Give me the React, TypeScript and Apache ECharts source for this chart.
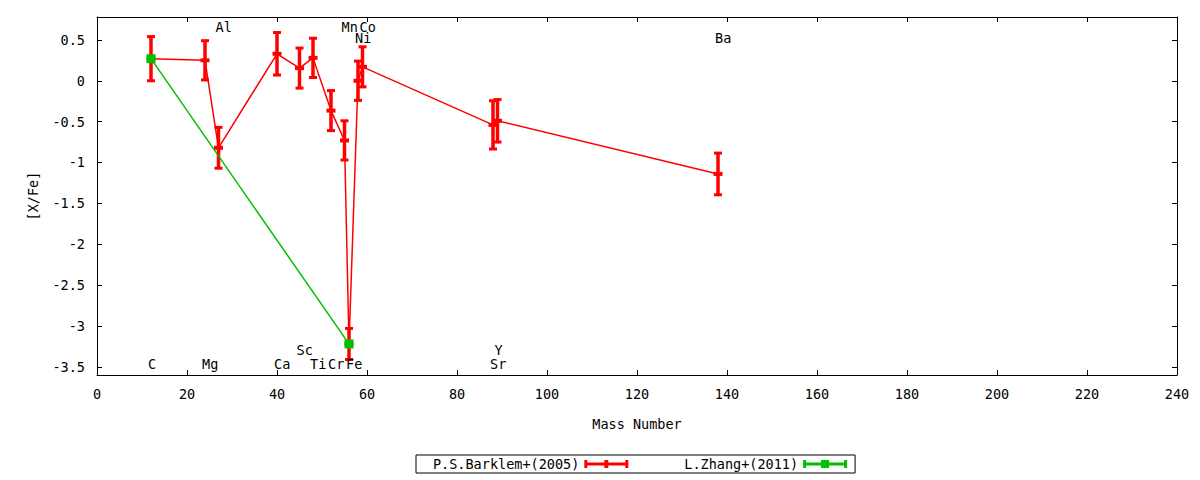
import React, { useEffect, useRef } from 'react';
import * as echarts from 'echarts';

// element labels and mass numbers (sorted by mass)
const elements = ['C', 'Mg', 'Al', 'Ca', 'Sc', 'Ti', 'Cr', 'Mn', 'Fe', 'Ni', 'Co', 'Sr', 'Y', 'Ba'];
const massNumbers = [12, 24, 27, 40, 45, 48, 52, 55, 56, 58, 59, 88, 89, 138];

// P.S.Barklem+(2005) [X/Fe] and errors
const barklemXFe = [0.27, 0.25, -0.82, 0.33, 0.155, 0.28, -0.365, -0.73, -3.22, 0.0, 0.17, -0.54, -0.49, -1.14];
const barklemErr = [0.27, 0.24, 0.25, 0.26, 0.245, 0.24, 0.245, 0.24, 0.19, 0.24, 0.245, 0.295, 0.26, 0.255];

// L.Zhang+(2011)
const zhangMass = [12, 56];
const zhangXFe = [0.27, -3.22];

// where each element name is written (in [X/Fe] units)
const labelY = [-3.46, -3.46, 0.655, -3.46, -3.29, -3.46, -3.46, 0.655, -3.46, 0.525, 0.655, -3.46, -3.29, 0.525];

const yTicks = [-3.5, -3, -2.5, -2, -1.5, -1, -0.5, 0, 0.5];

const FONT = '"DejaVu Sans Mono", monospace';
const FS = 13.5;
const RED = '#ff0000';
const GREEN = '#00c000';

const redIcon = 'path://M0 0h3v2.5h38v-2.5h3v8h-3v-2.5h-38v2.5h-3Z M20 0h4v8h-4Z';
const greenIcon = 'path://M0 0h3v2.5h38v-2.5h3v8h-3v-2.5h-38v2.5h-3Z M18 0h8v8h-8Z';

const App: React.FC = () => {
  const chartRef = useRef<HTMLDivElement>(null);

  useEffect(() => {
    document.body.style.margin = '0';
    if (!chartRef.current) return;
    const chart = echarts.init(chartRef.current, undefined, { renderer: 'svg' });

    const axisBase = {
      type: 'value' as const,
      axisLine: { onZero: false, lineStyle: { color: '#000', width: 1 } },
      axisTick: { inside: true, length: 5, lineStyle: { color: '#000', width: 1 } },
      splitLine: { show: false },
    };
    const labelStyle = { color: '#000', fontFamily: FONT, fontSize: FS };

    const errData = massNumbers.map((m, i) => [m, barklemXFe[i], barklemErr[i]]);

    const option: any = {
      animation: false,
      grid: { left: 97, right: 23, top: 17, bottom: 105 },
      legend: {
        data: [
          { name: 'P.S.Barklem+(2005)', icon: redIcon },
          { name: 'L.Zhang+(2011)', icon: greenIcon },
        ],
        left: 416,
        top: 455,
        align: 'right',
        itemWidth: 44,
        itemHeight: 8,
        itemGap: 56,
        padding: [2, 8, 2, 17],
        borderColor: '#000',
        borderWidth: 1,
        borderRadius: 0,
        selectedMode: false,
        itemStyle: { borderWidth: 0 },
        textStyle: labelStyle,
      },
      xAxis: [
        {
          ...axisBase,
          min: 0, max: 240, interval: 20, position: 'bottom',
          axisLabel: { ...labelStyle, margin: 12 },
          name: 'Mass Number', nameLocation: 'middle', nameGap: 42,
          nameTextStyle: labelStyle,
        },
        {
          ...axisBase,
          min: 0, max: 240, interval: 20, position: 'top',
          axisLabel: { show: false },
        },
      ],
      yAxis: [
        {
          ...axisBase,
          min: -3.6, max: 0.78, position: 'left',
          axisTick: { ...axisBase.axisTick, customValues: yTicks },
          axisLabel: { ...labelStyle, margin: 12, customValues: yTicks },
          name: '[X/Fe]', nameLocation: 'middle', nameGap: 57,
          nameTextStyle: labelStyle,
        },
        {
          ...axisBase,
          min: -3.6, max: 0.78, position: 'right',
          axisTick: { ...axisBase.axisTick, customValues: yTicks },
          axisLabel: { show: false, customValues: yTicks },
        },
      ],
      series: [
        {
          name: 'P.S.Barklem+(2005)',
          type: 'line',
          data: massNumbers.map((m, i) => [m, barklemXFe[i]]),
          symbol: 'none',
          color: RED,
          itemStyle: { color: RED },
          lineStyle: { color: RED, width: 1.5 },
          z: 2,
        },
        {
          name: 'barklem-err',
          type: 'custom',
          data: errData,
          encode: { x: 0, y: 1 },
          z: 3,
          renderItem: (params: any, api: any) => {
            const x = api.value(0);
            const y = api.value(1);
            const e = api.value(2);
            const top = api.coord([x, y + e]);
            const bot = api.coord([x, y - e]);
            const mid = api.coord([x, y]);
            const style = { fill: RED };
            return {
              type: 'group',
              children: [
                { type: 'rect', shape: { x: top[0] - 1.75, y: top[1], width: 3.5, height: bot[1] - top[1] }, style },
                { type: 'rect', shape: { x: top[0] - 4, y: top[1] - 1.5, width: 8, height: 3 }, style },
                { type: 'rect', shape: { x: bot[0] - 4, y: bot[1] - 1.5, width: 8, height: 3 }, style },
                { type: 'rect', shape: { x: mid[0] - 4.5, y: mid[1] - 2, width: 9, height: 4 }, style },
              ],
            };
          },
        },
        {
          name: 'L.Zhang+(2011)',
          type: 'line',
          data: zhangMass.map((m, i) => [m, zhangXFe[i]]),
          symbol: 'rect',
          symbolSize: 9,
          color: GREEN,
          itemStyle: { color: GREEN },
          lineStyle: { color: GREEN, width: 1.5 },
          z: 4,
        },
        {
          name: 'element-labels',
          type: 'custom',
          data: massNumbers.map((m, i) => [m, labelY[i]]),
          encode: { x: 0, y: 1 },
          z: 5,
          renderItem: (params: any, api: any) => {
            const p = api.coord([api.value(0), api.value(1)]);
            return {
              type: 'text',
              x: p[0] - 3,
              y: p[1],
              style: {
                text: elements[params.dataIndex],
                fill: '#000',
                font: `${FS}px ${FONT}`,
                align: 'left',
                verticalAlign: 'middle',
              },
            };
          },
        },
      ],
    };

    chart.setOption(option);
    return () => {
      chart.dispose();
    };
  }, []);

  return <div ref={chartRef} style={{ width: 1200, height: 480 }} />;
};

export default App;
